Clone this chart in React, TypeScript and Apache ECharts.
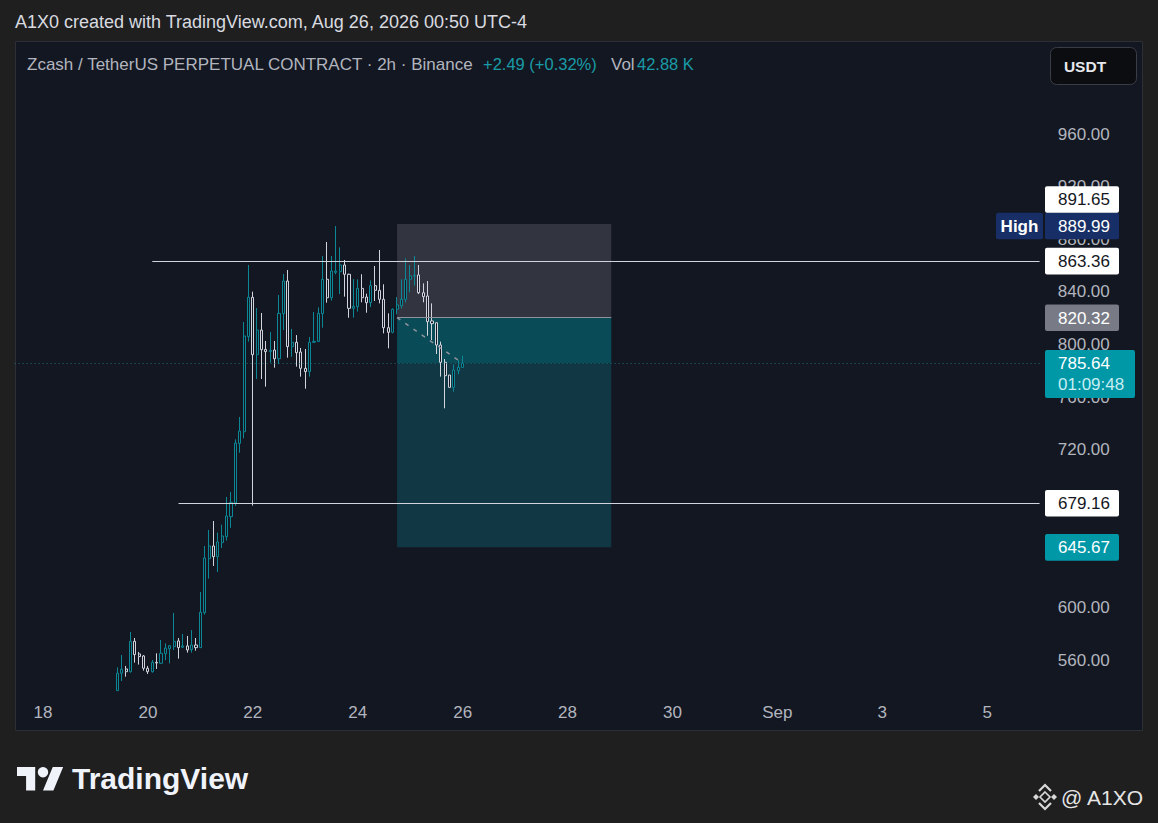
import React, { useEffect, useRef } from 'react';
import * as echarts from 'echarts';

const W = 1158;
const H = 823;
const FONT = '"Liberation Sans", Arial, sans-serif';

// ---- time axis: 2-hour slots ----
const SLOT_START = Date.UTC(2026, 7, 17, 12);
const SLOT_HOURS = 2;
const SLOT_COUNT = 235;
const pad = (n: number) => String(n).padStart(2, '0');
const slotName = (t: number) => {
  const d = new Date(t);
  return `${pad(d.getUTCMonth() + 1)}-${pad(d.getUTCDate())} ${pad(d.getUTCHours())}:00`;
};
const categories = Array.from({ length: SLOT_COUNT }, (_, i) =>
  slotName(SLOT_START + i * SLOT_HOURS * 3600e3)
);

const tickDates = ['08-18 00:00', '08-20 00:00', '08-22 00:00', '08-24 00:00', '08-26 00:00', '08-28 00:00', '08-30 00:00', '09-01 00:00', '09-03 00:00', '09-05 00:00'];
const tickLabels = ['18', '20', '22', '24', '26', '28', '30', 'Sep', '3', '5'];

// ---- price axis ----
const Y_MIN = 520;
const Y_MAX = 1040;
const Y_STEP = 40;
const Y_LABEL_LOW = 560;
const Y_LABEL_HIGH = 960;
const Y_LABELS_HIDDEN = [640, 680]; // fully covered by price tags in the reference

// ---- candles (open, close, low, high), first bar Aug 19 10:00 ----
const firstBar = '08-19 10:00';
const ohlc: number[][] = [
  [536.7, 549.9, 536.7, 554.4],
  [549.9, 553.0, 544.0, 563.8],
  [553.2, 551.1, 547.3, 555.5],
  [551.1, 574.2, 550.4, 581.3],
  [574.2, 564.1, 558.0, 576.7],
  [564.6, 562.6, 556.5, 566.1],
  [563.1, 553.7, 551.9, 563.8],
  [553.7, 551.1, 549.4, 555.5],
  [551.1, 558.2, 550.4, 560.0],
  [558.2, 557.7, 553.2, 565.1],
  [557.5, 565.1, 557.0, 575.2],
  [564.8, 569.1, 560.0, 572.7],
  [568.6, 570.9, 557.5, 571.2],
  [570.2, 574.2, 567.6, 595.8],
  [574.5, 569.4, 561.0, 576.7],
  [569.7, 570.7, 569.1, 579.8],
  [570.7, 567.6, 565.6, 578.3],
  [567.9, 571.4, 565.6, 582.8],
  [571.4, 569.4, 567.1, 576.7],
  [569.4, 596.3, 569.1, 611.7],
  [596.0, 637.6, 594.5, 646.7],
  [637.1, 646.7, 621.9, 658.9],
  [646.7, 638.6, 631.5, 665.7],
  [638.6, 649.8, 626.9, 656.9],
  [649.3, 654.3, 645.2, 662.9],
  [653.8, 669.5, 650.8, 684.0],
  [669.0, 679.9, 660.5, 687.8],
  [679.4, 725.0, 677.1, 727.8],
  [724.7, 734.1, 717.6, 744.8],
  [733.6, 806.4, 728.6, 817.0],
  [805.9, 835.8, 802.1, 860.4],
  [835.8, 792.2, 677.4, 840.1],
  [792.2, 810.9, 773.7, 827.7],
  [810.9, 796.0, 773.7, 823.9],
  [796.2, 794.5, 767.9, 802.6],
  [794.5, 795.5, 786.1, 809.4],
  [795.7, 789.1, 782.3, 802.6],
  [789.1, 823.6, 785.1, 837.6],
  [823.4, 848.2, 810.9, 853.5],
  [848.2, 798.3, 789.9, 856.6],
  [798.3, 801.6, 790.6, 811.7],
  [801.6, 793.7, 783.1, 807.1],
  [794.2, 781.8, 775.5, 797.3],
  [781.8, 779.3, 766.3, 796.5],
  [779.3, 801.6, 775.5, 805.6],
  [801.6, 802.3, 801.3, 824.6],
  [802.3, 823.6, 801.8, 828.2],
  [823.4, 849.5, 812.7, 867.2],
  [849.5, 835.5, 831.7, 877.9],
  [835.5, 855.8, 833.3, 867.2],
  [854.8, 855.8, 853.3, 889.99],
  [855.3, 860.4, 838.3, 873.8],
  [860.4, 853.3, 836.3, 864.2],
  [853.3, 827.4, 820.3, 853.8],
  [827.4, 828.9, 820.3, 849.7],
  [828.7, 842.6, 824.9, 849.5],
  [842.6, 835.5, 832.0, 853.3],
  [836.0, 831.7, 824.1, 838.6],
  [831.7, 844.7, 828.4, 848.7],
  [844.7, 841.1, 833.0, 859.6],
  [841.1, 834.3, 831.2, 871.8],
  [834.3, 812.7, 808.4, 845.7],
  [812.7, 809.2, 797.0, 823.6],
  [809.2, 826.7, 808.4, 827.4],
  [826.7, 830.0, 822.9, 836.0],
  [829.4, 834.3, 827.4, 849.5],
  [834.3, 849.5, 832.0, 865.4],
  [849.5, 852.0, 839.6, 860.4],
  [852.0, 852.5, 844.7, 867.2],
  [852.8, 839.3, 838.3, 860.4],
  [839.3, 836.3, 832.0, 846.4],
  [836.8, 817.3, 806.6, 848.2],
  [817.8, 815.8, 803.3, 831.2],
  [816.5, 799.5, 792.7, 816.5],
  [799.5, 786.4, 775.5, 802.1],
  [786.4, 776.2, 751.4, 788.9],
  [776.7, 767.3, 767.3, 776.7],
  [767.3, 780.5, 764.0, 784.8],
  [780.0, 782.5, 777.2, 788.1],
  [782.5, 785.64, 782.5, 791.4],
];

// ---- drawings ----
const hLines = [
  { from: '08-20 02:00', value: 863.36 },
  { from: '08-20 14:00', value: 679.16 },
];
const lineEnd = '09-06 00:00';
const position = {
  start: '08-24 18:00',
  end: '08-28 20:00',
  entry: 820.32,
  stop: 891.65,
  target: 645.67,
  current: 785.64,
  currentAt: '08-26 00:00',
};

const TEAL_TAG = '#0097a7';
const priceTags = [
  { value: 645.67, label: '645.67', bg: TEAL_TAG, fg: '#ffffff' },
  { value: 679.16, label: '679.16', bg: '#ffffff', fg: '#131722' },
  { value: 785.64, label: '785.64', bg: TEAL_TAG, fg: '#ffffff', sub: '01:09:48' },
  { value: 820.32, label: '820.32', bg: '#787b86', fg: '#ffffff' },
  { value: 863.36, label: '863.36', bg: '#ffffff', fg: '#131722' },
  { value: 889.99, label: '889.99', bg: '#172f66', fg: '#ffffff', title: 'High' },
  { value: 891.65, label: '891.65', bg: '#ffffff', fg: '#131722' },
];

// ---- layout / style ----
const OUTER_BG = '#1f1f1f';
const PANEL_BG = '#131722';
const UP = '#0b8796';
const DOWN = '#d1d4dc';
const AXIS_TEXT = '#b2b5be';
const SLOT_W = 4.371;
const GRID_LEFT = 14.6;
const GRID_RIGHT_X = GRID_LEFT + SLOT_COUNT * SLOT_W;
const GRID_TOP = 28.8;
const PX_PER_UNIT = 1.315;
const GRID_BOTTOM = H - GRID_TOP - (Y_MAX - Y_MIN) * PX_PER_UNIT;
const TAG_X = 1045;
const TAG_TEXT_X = 1058;

echarts.graphic.registerShape(
  'tvlogo',
  echarts.graphic.extendPath('M14 22H7V11H0V4h14v18zM28 22h-8l7.5-18h8L28 22z', {}) as any
);

const txt = (x: number, y: number, text: string, fill: string, fontSize: number, extra: any = {}, z = 10) => ({
  type: 'text',
  x,
  y,
  z,
  silent: true,
  style: {
    text,
    fill,
    fontSize,
    fontFamily: FONT,
    align: 'left',
    verticalAlign: 'middle',
    textAlign: 'left',
    textVerticalAlign: 'middle',
    ...extra,
  },
});

function buildBaseGraphics() {
  return [
    {
      type: 'rect', z: -100, silent: true,
      shape: { x: 15.5, y: 41.5, width: 1127, height: 689 },
      style: { fill: PANEL_BG, stroke: '#2c2f36', lineWidth: 1 },
    },
    txt(15, 22, 'A1X0 created with TradingView.com, Aug 26, 2026 00:50 UTC-4', '#d9dbe0', 18),
    txt(27, 64, 'Zcash / TetherUS PERPETUAL CONTRACT · 2h · Binance', AXIS_TEXT, 17),
    txt(483, 64, '+2.49 (+0.32%)', '#1a9ba6', 16.5),
    txt(611, 64, 'Vol', AXIS_TEXT, 17),
    txt(637, 64, '42.88 K', '#1a9ba6', 16.5),
    {
      type: 'rect', z: 50, silent: true,
      shape: { x: 1050.5, y: 47.5, width: 86, height: 37, r: 6 },
      style: { fill: '#0c0d10', stroke: '#3a3d45', lineWidth: 1 },
    },
    txt(1085, 66, 'USDT', '#e6e8ee', 15.5, { fontWeight: 'bold', align: 'center', textAlign: 'center' }, 51),
    // footer
    { type: 'tvlogo', x: 17, y: 761.8, scaleX: 1.3, scaleY: 1.3, z: 10, silent: true, style: { fill: '#f0f3fa' } },
    { type: 'circle', z: 10, silent: true, shape: { cx: 17 + 20 * 1.3, cy: 761.8 + 8 * 1.3, r: 4 * 1.3 }, style: { fill: '#f0f3fa' } },
    txt(72, 778, 'TradingView', '#f0f3fa', 30, { fontWeight: 'bold' }),
    // binance-like mark
    { type: 'polygon', z: 10, silent: true, shape: { points: [[1045, 792], [1050, 797], [1045, 802], [1040, 797]] }, style: { fill: 'none', stroke: '#d9d9d9', lineWidth: 1.6 } },
    { type: 'polygon', z: 10, silent: true, shape: { points: [[1036, 794], [1039, 797], [1036, 800], [1033, 797]] }, style: { fill: '#d9d9d9' } },
    { type: 'polygon', z: 10, silent: true, shape: { points: [[1054, 794], [1057, 797], [1054, 800], [1051, 797]] }, style: { fill: '#d9d9d9' } },
    { type: 'polyline', z: 10, silent: true, shape: { points: [[1039, 791], [1045, 785], [1051, 791]] }, style: { stroke: '#d9d9d9', lineWidth: 2.2, fill: 'none' } },
    { type: 'polyline', z: 10, silent: true, shape: { points: [[1039, 803], [1045, 809], [1051, 803]] }, style: { stroke: '#d9d9d9', lineWidth: 2.2, fill: 'none' } },
    txt(1061, 797, '@ A1XO', '#e6e6e6', 21),
  ];
}

function buildTagGraphics(toY: (v: number) => number) {
  const out: any[] = [];
  const BOX_H = 26.6;
  let prevTop = Infinity;
  priceTags.forEach((t: any) => {
    const h = t.sub ? 48 : BOX_H;
    const w = t.sub ? 90 : 74;
    let top = toY(t.value) - BOX_H / 2;
    if (top + h > prevTop) top = prevTop - h;
    prevTop = top;
    out.push({
      type: 'rect', z: 100, silent: true,
      shape: { x: TAG_X, y: top, width: w, height: h, r: 2 },
      style: { fill: t.bg },
    });
    out.push(txt(TAG_TEXT_X, top + BOX_H / 2 + 0.5, t.label, t.fg, 17, {}, 101));
    if (t.sub) out.push(txt(TAG_TEXT_X, top + 35, t.sub, '#c6eef3', 17, {}, 101));
    if (t.title) {
      out.push({
        type: 'rect', z: 100, silent: true,
        shape: { x: 996, y: top, width: 47, height: h, r: 2 },
        style: { fill: t.bg },
      });
      out.push(txt(1019.5, top + BOX_H / 2 + 0.5, t.title, t.fg, 17, { fontWeight: 'bold', align: 'center', textAlign: 'center' }, 101));
    }
  });
  return out;
}

function buildOption(extraGraphics: any[] = []) {
  const startIndex = categories.indexOf(firstBar);
  const candleData = ohlc.map((k, i) => [startIndex + i, k[0], k[1], k[2], k[3]]);
  const tickMap: Record<string, string> = {};
  tickDates.forEach((d, i) => (tickMap[d] = tickLabels[i]));

  const lineData: any[] = hLines.map((l) => [
    { coord: [l.from, l.value], lineStyle: { color: '#d1d4dc', width: 1, type: 'solid' } },
    { coord: [lineEnd, l.value] },
  ]);
  lineData.push({ yAxis: position.current, lineStyle: { color: '#1a6d78', width: 1, type: [1, 3] } });
  lineData.push([
    { coord: [position.start, position.entry], lineStyle: { color: '#8f929b', width: 1, type: 'solid' } },
    { coord: [position.end, position.entry] },
  ]);
  lineData.push([
    { coord: [position.start, position.entry], lineStyle: { color: '#8f929b', width: 1.5, type: [4, 6] } },
    { coord: [position.currentAt, position.current] },
  ]);

  return {
    animation: false,
    backgroundColor: OUTER_BG,
    textStyle: { fontFamily: FONT },
    grid: { left: GRID_LEFT, right: W - GRID_RIGHT_X, top: GRID_TOP, bottom: GRID_BOTTOM, containLabel: false },
    xAxis: {
      type: 'category',
      data: categories,
      boundaryGap: true,
      axisLine: { show: false },
      axisTick: { show: false },
      splitLine: { show: false },
      axisLabel: {
        interval: (_i: number, v: string) => v in tickMap,
        formatter: (v: string) => tickMap[v] ?? '',
        color: AXIS_TEXT,
        fontSize: 17,
        fontFamily: FONT,
        margin: -9,
      },
    },
    yAxis: {
      type: 'value',
      position: 'right',
      min: Y_MIN,
      max: Y_MAX,
      interval: Y_STEP,
      scale: true,
      axisLine: { show: false },
      axisTick: { show: false },
      splitLine: { show: false },
      axisLabel: {
        color: AXIS_TEXT,
        fontSize: 17,
        fontFamily: FONT,
        margin: 16,
        showMinLabel: true,
        showMaxLabel: true,
        formatter: (v: number) =>
          v >= Y_LABEL_LOW && v <= Y_LABEL_HIGH && !Y_LABELS_HIDDEN.includes(v) ? v.toFixed(2) : '',
      },
    },
    series: [
      {
        type: 'candlestick',
        data: candleData,
        encode: { x: 0, y: [1, 2, 3, 4] },
        barWidth: 2.6,
        clip: true,
        silent: true,
        itemStyle: {
          color: PANEL_BG,
          color0: PANEL_BG,
          borderColor: UP,
          borderColor0: DOWN,
          borderWidth: 1,
        },
        markArea: {
          silent: true,
          data: [
            [
              { xAxis: position.start, yAxis: position.stop, itemStyle: { color: '#32353f', opacity: 1 } },
              { xAxis: position.end, yAxis: position.entry },
            ],
            [
              { xAxis: position.start, yAxis: position.entry, itemStyle: { color: '#0a4b58', opacity: 1 } },
              { xAxis: position.end, yAxis: position.current },
            ],
            [
              { xAxis: position.start, yAxis: position.current, itemStyle: { color: '#113744', opacity: 1 } },
              { xAxis: position.end, yAxis: position.target },
            ],
          ],
        },
        markLine: {
          silent: true,
          symbol: ['none', 'none'],
          label: { show: false },
          emphasis: { disabled: true },
          data: lineData,
        },
      },
    ],
    graphic: [...buildBaseGraphics(), ...extraGraphics],
  };
}

export default function App() {
  const ref = useRef<HTMLDivElement>(null);
  useEffect(() => {
    if (!ref.current) return;
    const chart = echarts.init(ref.current, null, { renderer: 'svg', width: W, height: H });
    chart.setOption(buildOption() as any);
    const toY = (v: number) => chart.convertToPixel({ yAxisIndex: 0 }, v) as unknown as number;
    const tags = buildTagGraphics(toY);
    chart.setOption(buildOption(tags) as any, { notMerge: true });
    return () => chart.dispose();
  }, []);
  return <div ref={ref} style={{ position: 'absolute', left: 0, top: 0, width: W, height: H }} />;
}
